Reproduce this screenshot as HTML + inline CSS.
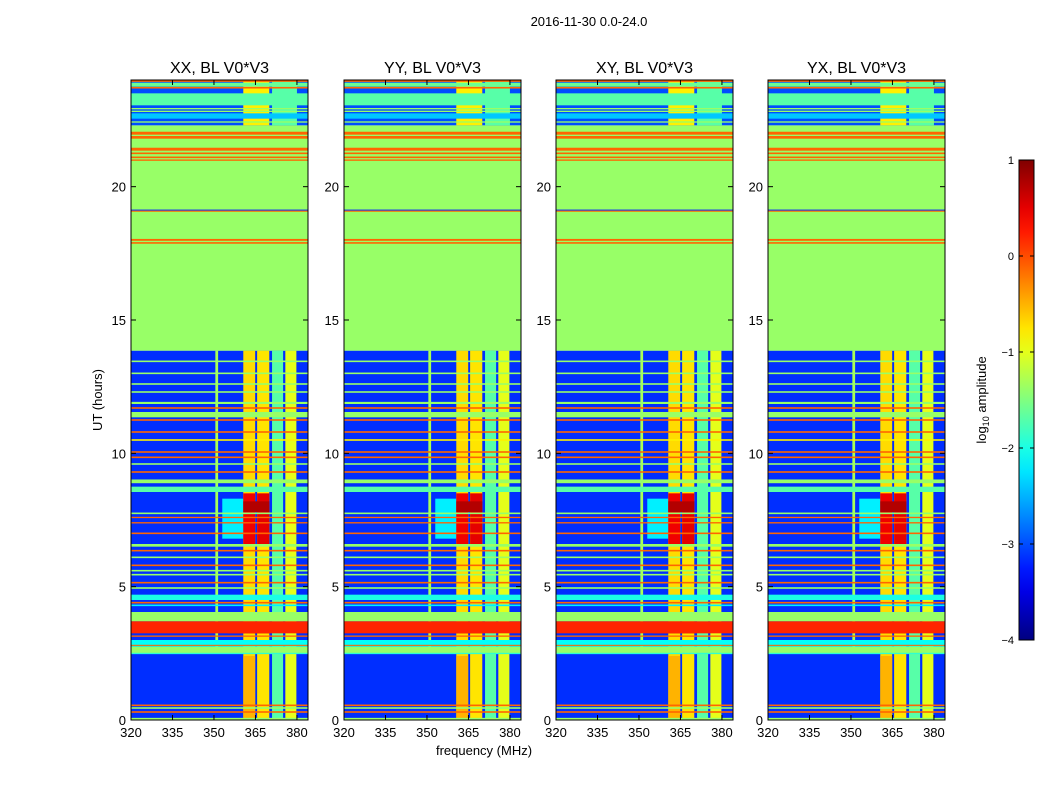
<!DOCTYPE html>
<html><head><meta charset="utf-8"><style>
body{margin:0;background:#fff;}
svg{display:block;font-family:"Liberation Sans",sans-serif;}
</style></head><body>
<svg id="chart" width="1050" height="800" viewBox="0 0 1050 800">
<rect width="1050" height="800" fill="#fff"/>
<text x="589" y="26" font-size="13" text-anchor="middle">2016-11-30 0.0-24.0</text>
<text x="484" y="755" font-size="13" text-anchor="middle">frequency (MHz)</text>
<text transform="translate(102,400) rotate(-90)" font-size="13" text-anchor="middle">UT (hours)</text>
<g id="panels"></g>
<g id="cbar"></g>
</svg>
<script>
const panelTitles = ["XX, BL V0*V3","YY, BL V0*V3","XY, BL V0*V3","YX, BL V0*V3"];
const xTicks = [320,335,350,365,380];
const yTicks = [0,5,10,15,20];
const cbTicks = [1,0,-1,-2,-3,-4];
// base regions: [tStart, tEnd, log10 amplitude]
const baseBands = [[0,13.85,-3.15],[13.85,22.3,-1.38],[22.3,24,-3.0]];
// full-width row features: [tStart, tEnd, value]
const rowBands = [
 [23.93,24,-0.12],[23.75,23.9,-1.6],[23.68,23.74,-0.12],[23.05,23.5,-1.7],[22.9,22.95,-1.38],[22.8,22.85,-1.38],
 [22.55,22.75,-2.4],[22.4,22.45,-1.38],
 [21.95,22.06,-0.12],[21.8,21.9,-0.12],[21.35,21.46,-0.12],[21.22,21.28,-0.12],[21.07,21.13,-0.12],[20.97,21.02,-0.12],
 [19.1,19.14,-3.2],[19.06,19.1,-0.12],[17.97,18.04,-0.12],[17.86,17.92,-0.12],
 [13.42,13.48,-1.38],[12.97,13.03,-1.38],[12.57,12.63,-1.38],[12.27,12.33,-1.38],[11.85,11.93,-1.38],[11.67,11.73,-0.12],
 [11.35,11.55,-1.38],[11.22,11.28,-0.12],[10.77,10.83,-0.12],[10.47,10.53,-0.8],[10.02,10.08,-0.12],[9.82,9.88,-0.12],
 [9.57,9.63,-1.38],[9.27,9.33,-0.12],[8.88,9.02,-1.38],[8.55,8.75,-1.7],
 [7.72,7.78,-1.38],[7.57,7.62,-0.12],[7.37,7.42,-0.12],[6.97,7.03,-0.12],[6.5,6.6,-1.38],[6.32,6.38,-0.12],
 [6.07,6.13,-1.38],[5.77,5.83,-0.12],[5.57,5.63,-1.38],[5.42,5.48,-1.38],[5.12,5.18,-0.12],[4.92,4.98,-1.38],
 [4.5,4.7,-2.0],[4.37,4.43,-0.12],[4.27,4.33,-2.2],[3.7,4.05,-1.38],[3.25,3.7,0.2],[3.12,3.17,-0.12],
 [2.75,3.0,-2.1],[2.78,2.82,-0.12],[2.5,2.75,-1.38],[2.47,2.52,-1.9],
 [0.52,0.58,-0.12],[0.42,0.48,-1.38],[0.27,0.33,-0.12],[0,0.08,-1.38]
];
// column features: [fStart, fEnd, tStart, tEnd, value]
const colBands = [
 [350.5,351.5,2.5,13.85,-1.3],
 [360.6,364.9,0,13.85,-0.7],[365.6,370,0,13.85,-0.75],[371,375,0,13.85,-1.7],[375.8,379.8,0,13.85,-1.0],
 [353,360.6,6.8,8.3,-2.2],
 [360.6,364.9,6.6,8.5,0.45],[365.6,370,6.6,8.5,0.5],[360.6,370,7.8,8.2,0.75],
 [360.6,370,3.25,3.7,0.8],[355,360.6,3.25,3.7,0.4],
 [360.6,364.9,0,2.4,-0.5],
 [360.6,370,22.3,24,-0.8],[371,380,22.3,24,-1.7]
];
const fMin=320,fMax=384,tMin=0,tMax=24;
const pW=177, pTop=80, pBot=720;
const panelX=[131,344,556,768];
const NS="http://www.w3.org/2000/svg";
function jet(v){
 let n=Math.max(0,Math.min(1,(v+4)/5));
 const c=x=>Math.round(255*Math.max(0,Math.min(1,1.5-Math.abs(x))));
 return `rgb(${c(4*n-3)},${c(4*n-2)},${c(4*n-1)})`;
}
function yS(t){return pBot-(t-tMin)/(tMax-tMin)*(pBot-pTop);}
function mk(tag,attrs,parent){const e=document.createElementNS(NS,tag);for(const k in attrs)e.setAttribute(k,attrs[k]);parent.appendChild(e);return e;}
const panels=document.getElementById('panels');
panelX.forEach((x0,pi)=>{
 const xS=f=>x0+(f-fMin)/(fMax-fMin)*pW;
 const g=mk('g',{},panels);
 
 
 const hm=mk('g',{},g);
 
 
 baseBands.forEach(b=>{const r=mk('rect',{x:x0,y:yS(b[1]),width:pW,height:yS(b[0])-yS(b[1]),fill:jet(b[2])},hm);
  });
 colBands.forEach(b=>{const r=mk('rect',{x:xS(b[0]),y:yS(b[3]),width:xS(b[1])-xS(b[0]),height:yS(b[2])-yS(b[3]),fill:jet(b[4])},hm);
  });
 rowBands.forEach(b=>{const r=mk('rect',{x:x0,y:yS(b[1]),width:pW,height:Math.max(1,yS(b[0])-yS(b[1])),fill:jet(b[2])},hm);
  });
 const fr=mk('rect',{x:x0,y:pTop,width:pW,height:pBot-pTop,fill:'none',stroke:'#000','stroke-width':1},g);
 
 const tt=mk('text',{x:x0+pW/2,y:73,'font-size':16,'text-anchor':'middle'},g);tt.textContent=panelTitles[pi];
 
 xTicks.forEach(f=>{const x=xS(f);
  mk('line',{x1:x,x2:x,y1:pBot,y2:pBot-5,stroke:'#000'},g);mk('line',{x1:x,x2:x,y1:pTop,y2:pTop+5,stroke:'#000'},g);
  const t=mk('text',{x:x,y:pBot+17,'font-size':13,'text-anchor':'middle'},g);t.textContent=f;
  });
 yTicks.forEach(v=>{const y=yS(v);
  mk('line',{x1:x0,x2:x0+5,y1:y,y2:y,stroke:'#000'},g);mk('line',{x1:x0+pW,x2:x0+pW-5,y1:y,y2:y,stroke:'#000'},g);
  const t=mk('text',{x:x0-5,y:y+5,'font-size':13,'text-anchor':'end'},g);t.textContent=v;
  });
});
// colorbar
const cb=document.getElementById('cbar');
const cx=1019,cw=15,cTop=160,cBot=640,vMax=1,vMin=-4;
const cy=v=>cBot-(v-vMin)/(vMax-vMin)*(cBot-cTop);
const defs=mk('defs',{},cb);
const lg=mk('linearGradient',{id:'jetg',x1:0,y1:1,x2:0,y2:0},defs);
for(let i=0;i<=20;i++){const v=vMin+(vMax-vMin)*i/20;mk('stop',{offset:i/20,'stop-color':jet(v)},lg);}
const cr=mk('rect',{x:cx,y:cTop,width:cw,height:cBot-cTop,fill:'url(#jetg)',stroke:'#000'},cb);

cbTicks.forEach(v=>{const y=cy(v);
 mk('line',{x1:cx,x2:cx+4,y1:y,y2:y,stroke:'#000'},cb);mk('line',{x1:cx+cw,x2:cx+cw-4,y1:y,y2:y,stroke:'#000'},cb);
 const t=mk('text',{x:1014,y:y+4,'font-size':11,'text-anchor':'end'},cb);t.textContent=v<0?'\u2212'+(-v):v;
 });
const cl=mk('text',{transform:'translate(986,400) rotate(-90)','font-size':13,'text-anchor':'middle'},cb);
cl.innerHTML='log<tspan font-size="9" dy="3">10</tspan><tspan dy="-3"> amplitude</tspan>';

</script>
</body></html>
